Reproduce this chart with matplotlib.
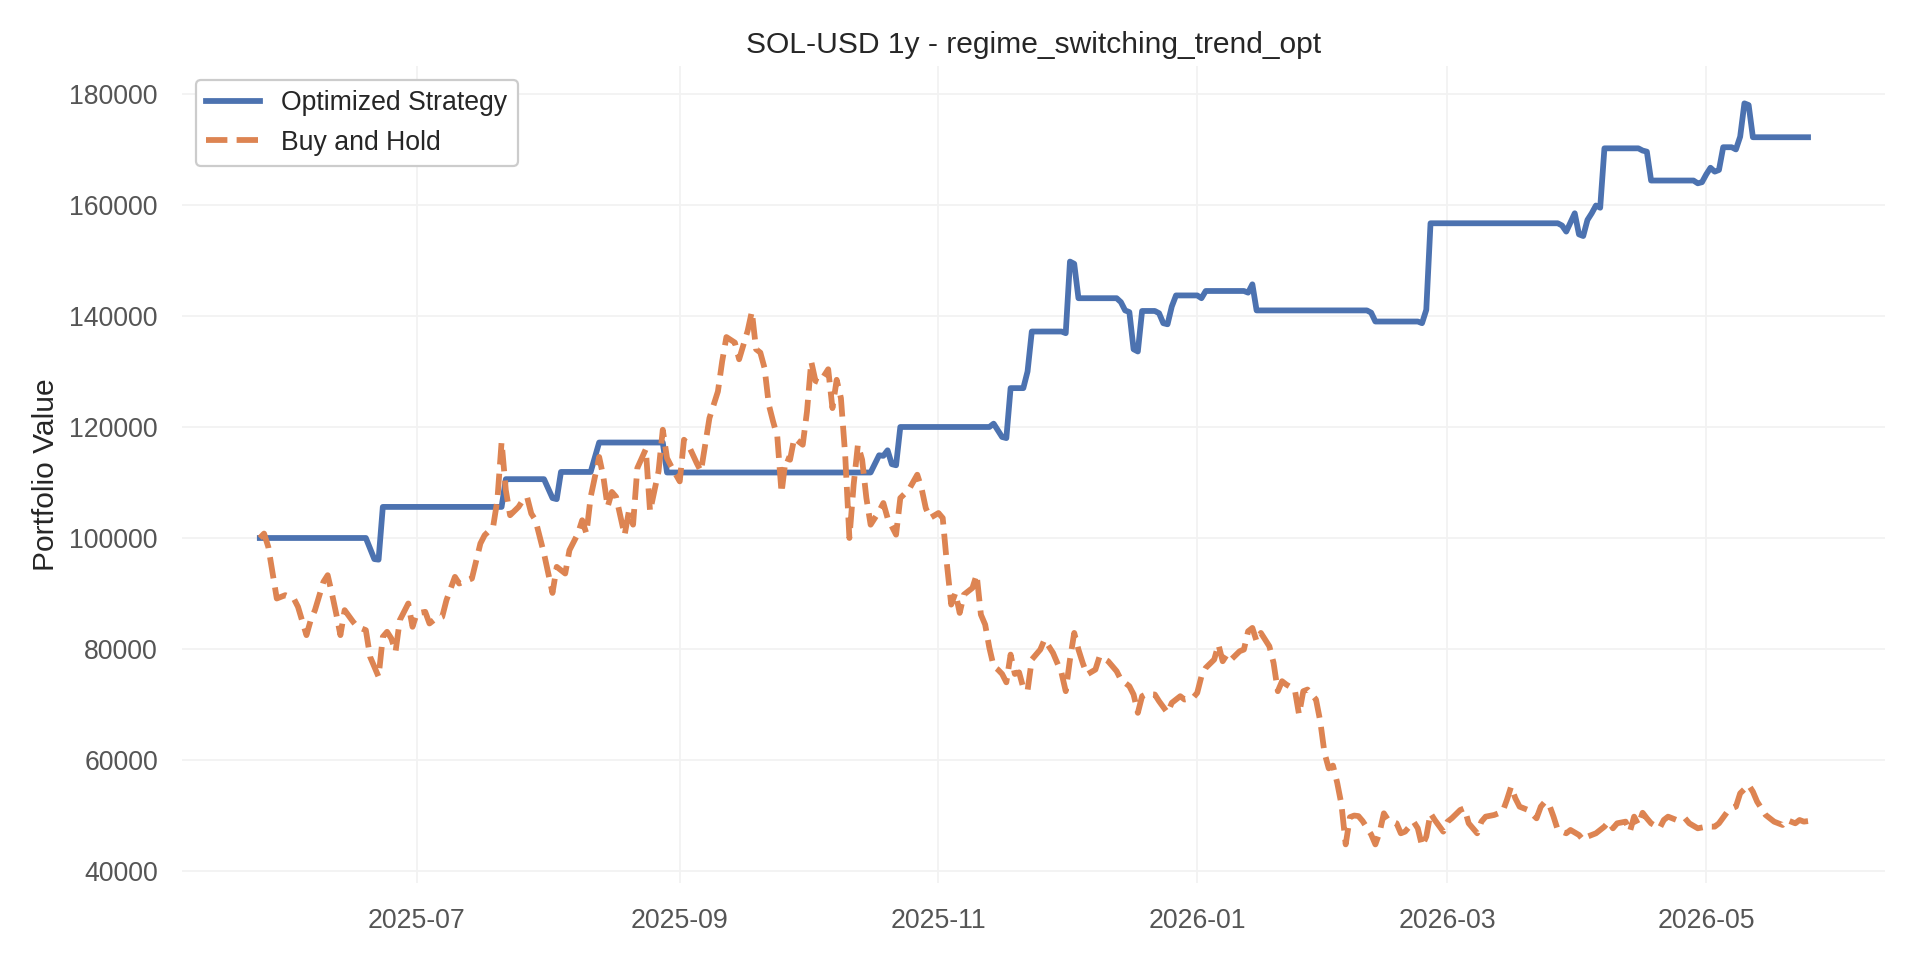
import pandas as pd
import matplotlib
matplotlib.use("Agg")
import matplotlib.pyplot as plt
import matplotlib.dates as mdates

plt.rcParams['font.family'] = ['Liberation Sans', 'DejaVu Sans']

start_date = "2025-05-25"

# optimized strategy: (day offset, portfolio value) where the curve changes
strategy_days = [0, 25, 27, 28, 29, 57, 58, 67, 69, 70, 71, 78, 80, 95, 96,
                 144, 146, 147, 148, 149, 150, 151, 172, 173, 175, 176, 177,
                 180, 181, 182, 189, 190, 191, 192, 193, 202, 203, 204, 205,
                 206, 207, 208, 211, 212, 213, 214, 215, 216, 221, 222, 223,
                 232, 233, 234, 235, 261, 262, 263, 273, 274, 275, 276, 306,
                 307, 308, 310, 311, 312, 313, 314, 315, 316, 317, 325, 326,
                 327, 328, 338, 339, 340, 341, 342, 343, 344, 345, 347, 348,
                 349, 350, 351, 352, 365]
strategy_values = [100000, 100000, 96200, 96100, 105600, 105600, 110600, 110600,
                   107200, 107000, 111900, 111900, 117200, 117200, 111800,
                   111800, 114900, 114800, 115800, 113300, 113100, 120000,
                   120000, 120600, 118200, 118000, 127000, 127000, 130000,
                   137200, 137200, 136900, 149800, 149400, 143200, 143200,
                   142500, 141000, 140700, 134000, 133600, 140900, 140900,
                   140500, 138700, 138500, 141700, 143700, 143700, 143200,
                   144500, 144500, 144200, 145700, 141000, 141000, 140600,
                   139000, 139000, 138700, 141100, 156700, 156700, 156300,
                   155200, 158500, 154700, 154400, 157300, 158500, 159900,
                   159500, 170200, 170200, 169800, 169600, 164400, 164400,
                   163900, 164100, 165500, 166700, 166000, 166300, 170400,
                   170400, 170000, 172300, 178300, 178000, 172200, 172200]

# buy and hold: (day offset, portfolio value)
hold_days = [0, 1, 2, 4, 6, 8, 9, 11, 12, 13, 15, 16, 17, 18, 19, 20, 22, 23,
             25, 26, 28, 29, 30, 31, 32, 33, 35, 36, 37, 39, 40, 41, 43, 44,
             46, 47, 50, 52, 53, 55, 56, 57, 58, 59, 61, 62, 63, 64, 65, 67,
             69, 70, 72, 73, 75, 76, 77, 78, 80, 81, 82, 83, 84, 86, 87, 88,
             89, 91, 92, 94, 95, 96, 97, 99, 100, 101, 103, 104, 105, 106,
             108, 109, 110, 112, 113, 115, 116, 117, 118, 119, 120, 121, 122,
             123, 124, 125, 126, 128, 129, 130, 131, 132, 134, 135, 136, 137,
             138, 139, 140, 141, 142, 143, 144, 146, 147, 148, 150, 151, 153,
             155, 156, 157, 158, 160, 161, 162, 163, 164, 165, 166, 168, 169,
             170, 171, 172, 173, 174, 175, 176, 177, 178, 179, 180, 181, 182,
             184, 185, 187, 188, 189, 190, 191, 192, 193, 194, 195, 197, 198,
             200, 202, 203, 205, 206, 207, 208, 209, 211, 212, 214, 215, 217,
             218, 220, 221, 222, 223, 225, 226, 227, 228, 229, 231, 232, 233,
             234, 235, 236, 238, 239, 240, 241, 242, 244, 245, 246, 247, 249,
             250, 251, 252, 253, 254, 255, 256, 257, 258, 259, 260, 262, 263,
             264, 265, 266, 267, 268, 269, 270, 272, 273, 274, 275, 276, 277,
             279, 280, 281, 283, 284, 285, 287, 288, 289, 291, 293, 294, 295,
             296, 297, 299, 301, 302, 303, 304, 305, 306, 308, 309, 311, 312,
             313, 315, 317, 318, 319, 320, 322, 323, 324, 325, 326, 327, 328,
             330, 331, 332, 334, 336, 337, 339, 341, 343, 344, 346, 347, 348,
             349, 351, 352, 353, 354, 355, 357, 358, 359, 360, 362, 363, 364,
             365]
hold_values = [100000, 100800, 98400, 89100, 89700, 89100, 87600, 82500, 85200,
               87000, 92100, 93300, 90000, 86400, 82500, 87000, 84900, 84000,
               83400, 78600, 75000, 82200, 83100, 81900, 79500, 85200, 88200,
               84000, 86400, 86700, 84600, 85200, 85800, 88800, 93000, 91800,
               92700, 99000, 100500, 102000, 106800, 117300, 108600, 104100,
               105600, 106800, 107400, 104400, 103200, 97200, 90100, 94800,
               93600, 97800, 100800, 103200, 100800, 107400, 114600, 111000,
               105600, 108300, 107400, 100500, 104800, 102400, 112600, 116000,
               104800, 112000, 119500, 114400, 112900, 110200, 117700, 116800,
               113500, 112000, 116800, 121600, 126400, 131800, 136200, 135200,
               132200, 137300, 140800, 134000, 133400, 130600, 124000, 121000,
               118300, 108100, 114400, 114100, 118000, 116800, 122800, 131800,
               128300, 128000, 130400, 123400, 128500, 125200, 115000, 100000,
               109600, 116800, 114100, 107200, 102400, 104800, 106300, 103600,
               100600, 107200, 108700, 111400, 109000, 105400, 103600, 104500,
               103600, 95200, 88000, 90100, 86500, 89800, 91000, 93400, 86200,
               84400, 80200, 76900, 76300, 75500, 74000, 79000, 75500, 75800,
               73000, 72500, 78100, 79900, 81700, 79300, 77500, 75700, 72400,
               78100, 82900, 79900, 77500, 75400, 76300, 78700, 77800, 76000,
               74500, 73300, 71800, 68500, 71500, 71900, 71800, 70600, 68500,
               70300, 71500, 70900, 71200, 72100, 75100, 76600, 78100, 80800,
               77800, 79000, 78100, 79600, 79900, 83200, 83800, 81400, 82900,
               80500, 77500, 72400, 74200, 73600, 72700, 68200, 72400, 72700,
               70900, 67000, 61300, 58500, 59000, 55900, 52000, 44800, 49700,
               50000, 49900, 49000, 46600, 44800, 47000, 50400, 49200, 48900,
               48600, 46800, 47100, 48900, 47700, 44500, 46200, 50400, 49200,
               47100, 48900, 49500, 51000, 51300, 48600, 46800, 48900, 49800,
               50100, 50700, 52800, 55200, 53100, 51600, 51000, 49500, 51600,
               52500, 51900, 49800, 47400, 46800, 47400, 46500, 45600, 46200,
               46800, 48000, 48900, 47700, 48600, 48900, 47100, 49800, 48300,
               50500, 49500, 48600, 47700, 49200, 49800, 49200, 49500, 48600,
               47700, 48000, 48000, 48600, 50700, 51300, 51600, 54000, 55500,
               54300, 52500, 51300, 50100, 48900, 48600, 48300, 49200, 48600,
               49200, 48900, 49000]

strategy = pd.Series(strategy_values,
                     index=pd.Timestamp(start_date) + pd.to_timedelta(strategy_days, unit="D"))
hold = pd.Series(hold_values,
                 index=pd.Timestamp(start_date) + pd.to_timedelta(hold_days, unit="D"))

fig, ax = plt.subplots(figsize=(12, 6), dpi=160)
fig.subplots_adjust(left=0.095, right=0.982, top=0.931, bottom=0.080)

ax.plot(strategy.index, strategy.values, color="#4C72B0", linewidth=2.6,
        label="Optimized Strategy")
ax.plot(hold.index, hold.values, color="#DD8452", linewidth=2.6, linestyle="--",
        label="Buy and Hold")

ax.xaxis.set_major_locator(mdates.MonthLocator(bymonth=[1, 3, 5, 7, 9, 11]))
ax.xaxis.set_major_formatter(mdates.DateFormatter("%Y-%m"))

# very faint grid, no spines
ax.grid(True, color="#f2f2f2", linewidth=0.8)
ax.set_axisbelow(True)
for s in ax.spines.values():
    s.set_visible(False)
ax.tick_params(length=0, pad=11, labelsize=12, labelcolor="#555555")

ax.set_title("SOL-USD 1y - regime_switching_trend_opt", fontsize=13.5, color="#262626")
ax.set_ylabel("Portfolio Value", fontsize=13.5, color="#262626")

leg = ax.legend(loc="upper left", fontsize=12, frameon=True, fancybox=True,
                edgecolor="#cccccc", framealpha=1)
for t in leg.get_texts():
    t.set_color("#262626")

fig.savefig("out.png", dpi=160)
